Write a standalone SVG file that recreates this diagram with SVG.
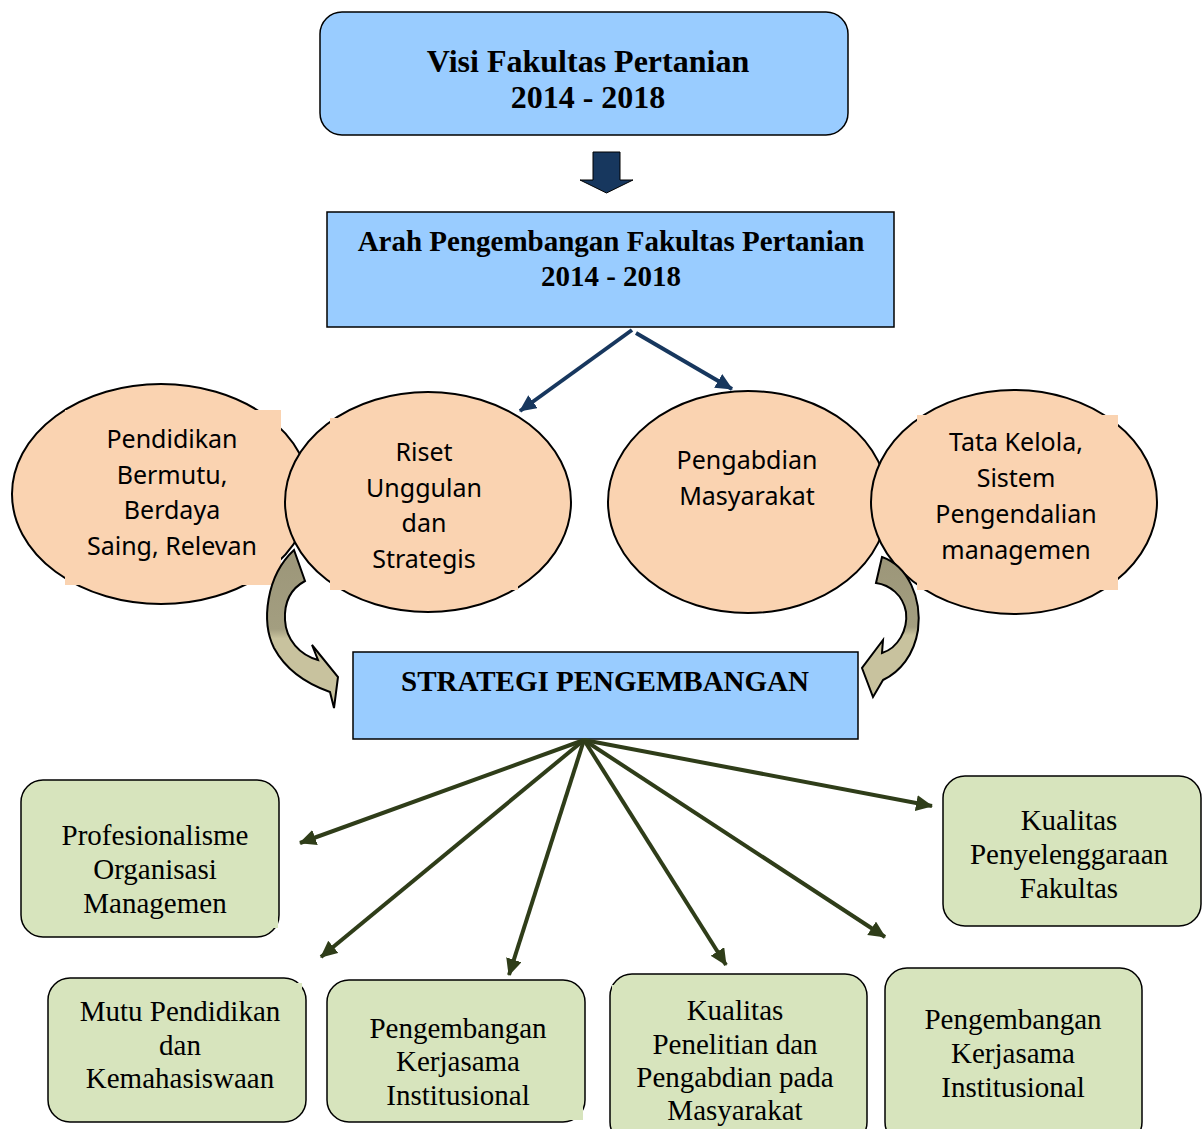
<svg xmlns="http://www.w3.org/2000/svg" width="1203" height="1129" viewBox="0 0 1203 1129">
<style>
.blue{fill:#99CCFF;stroke:#000;stroke-width:1.5}
.peach{fill:#FAD3B1;stroke:#000;stroke-width:2}
.pfill{fill:#FAD3B1;stroke:none}
.green{fill:#D7E4BD;stroke:#000;stroke-width:1.5}
.gfill{fill:#D7E4BD;stroke:none}
.tb{font-family:"Liberation Serif",serif;font-weight:bold;fill:#000;text-anchor:middle}
.ts{font-family:"Liberation Serif",serif;font-size:29px;fill:#000;text-anchor:middle}
.tc{font-family:"Noto Sans","Open Sans",sans-serif;font-size:25px;fill:#000;text-anchor:middle}
.navy{stroke:#17375E;stroke-width:4;fill:none}
.olive{stroke:#2F3D19;stroke-width:4;fill:none}
.curve{stroke:#000;stroke-width:2;fill:url(#cg)}
</style>
<defs>
<marker id="mn" markerUnits="userSpaceOnUse" markerWidth="20" markerHeight="18" refX="16" refY="8" orient="auto"><path d="M0,0 L17,8 L0,16 Z" fill="#17375E"/></marker>
<marker id="mo" markerUnits="userSpaceOnUse" markerWidth="20" markerHeight="18" refX="16" refY="8" orient="auto"><path d="M0,0 L17,8 L0,16 Z" fill="#2F3D19"/></marker>
<linearGradient id="cg" x1="0" y1="0" x2="0" y2="1"><stop offset="0" stop-color="#9C9679"/><stop offset="0.5" stop-color="#A39E80"/><stop offset="0.56" stop-color="#C8C29E"/><stop offset="1" stop-color="#C8C29E"/></linearGradient>
</defs>

<g id="visi">
<rect class="blue" x="320" y="12" width="528" height="123" rx="22"/>
<text class="tb" font-size="32" x="588" y="72">Visi Fakultas Pertanian</text>
<text class="tb" font-size="32" x="588" y="108">2014 - 2018</text>
</g>

<g id="down-arrow">
<path d="M593,152 L620,152 L620,180 L633,180 L606.5,193 L580,180 L593,180 Z" fill="#17375E" stroke="#000" stroke-width="1"/>
</g>

<g id="arah">
<rect class="blue" x="327" y="212" width="567" height="115"/>
<text class="tb" font-size="29" x="611" y="251">Arah Pengembangan Fakultas Pertanian</text>
<text class="tb" font-size="29" x="611" y="286">2014 - 2018</text>
</g>

<g id="pendidikan">
<ellipse class="peach" cx="161" cy="494" rx="149" ry="110"/>
<rect class="pfill" x="65" y="410" width="216" height="175"/>
<text class="tc" x="172" y="448">Pendidikan</text>
<text class="tc" x="172" y="484">Bermutu,</text>
<text class="tc" x="172" y="519">Berdaya</text>
<text class="tc" x="172" y="555">Saing, Relevan</text>
</g>

<g id="riset">
<ellipse class="peach" cx="428" cy="502" rx="143" ry="110"/>
<rect class="pfill" x="330" y="418" width="188" height="172"/>
<text class="tc" x="424" y="461">Riset</text>
<text class="tc" x="424" y="497">Unggulan</text>
<text class="tc" x="424" y="532">dan</text>
<text class="tc" x="424" y="568">Strategis</text>
</g>

<g id="pengabdian">
<ellipse class="peach" cx="748" cy="502" rx="140" ry="111"/>
<text class="tc" x="747" y="469">Pengabdian</text>
<text class="tc" x="747" y="505">Masyarakat</text>
</g>

<g id="tatakelola">
<ellipse class="peach" cx="1014" cy="502" rx="143" ry="112"/>
<rect class="pfill" x="917" y="415" width="201" height="175"/>
<text class="tc" x="1016" y="451">Tata Kelola,</text>
<text class="tc" x="1016" y="487">Sistem</text>
<text class="tc" x="1016" y="523">Pengendalian</text>
<text class="tc" x="1016" y="559">managemen</text>
</g>

<g id="curved-arrows">
<path class="curve" d="M294,550 C266,576 261,622 274,648 C287,672 310,685 330,692 L334,708 L338,677 L312,645 L318,660 C300,655 286,640 285,620 C284,600 292,588 305,581 Z"/>
<path class="curve" d="M882,557 C908,566 922,598 918,630 C914,655 900,672 883,680 L873,697 L862,668 L883,640 L882,653 C898,648 908,630 906,612 C903,595 890,585 876,583 Z"/>
</g>

<g id="strategi">
<rect class="blue" x="353" y="652" width="505" height="87"/>
<text class="tb" font-size="29" x="605" y="691">STRATEGI PENGEMBANGAN</text>
</g>

<g id="profesionalisme">
<rect class="green" x="21" y="780" width="258" height="157" rx="22"/>
<rect class="gfill" x="262" y="917" width="16" height="11"/>
<text class="ts" x="155" y="845">Profesionalisme</text>
<text class="ts" x="155" y="879">Organisasi</text>
<text class="ts" x="155" y="913">Managemen</text>
</g>

<g id="mutu">
<rect class="green" x="48" y="978" width="258" height="144" rx="22"/>
<rect class="gfill" x="288" y="983" width="14" height="12"/>
<text class="ts" x="180" y="1021">Mutu Pendidikan</text>
<text class="ts" x="180" y="1055">dan</text>
<text class="ts" x="180" y="1088">Kemahasiswaan</text>
</g>

<g id="kerjasama1">
<rect class="green" x="327" y="980" width="258" height="142" rx="22"/>
<rect class="gfill" x="568" y="1106" width="15" height="14"/>
<text class="ts" x="458" y="1038">Pengembangan</text>
<text class="ts" x="458" y="1071">Kerjasama</text>
<text class="ts" x="458" y="1105">Institusional</text>
</g>

<g id="penelitian">
<rect class="green" x="610" y="974" width="257" height="170" rx="22"/>
<rect class="gfill" x="612" y="985" width="14" height="12"/>
<text class="ts" x="735" y="1020">Kualitas</text>
<text class="ts" x="735" y="1054">Penelitian dan</text>
<text class="ts" x="735" y="1087">Pengabdian pada</text>
<text class="ts" x="735" y="1120">Masyarakat</text>
</g>

<g id="kerjasama2">
<rect class="green" x="885" y="968" width="257" height="176" rx="22"/>
<text class="ts" x="1013" y="1029">Pengembangan</text>
<text class="ts" x="1013" y="1063">Kerjasama</text>
<text class="ts" x="1013" y="1097">Institusional</text>
</g>

<g id="penyelenggaraan">
<rect class="green" x="943" y="776" width="258" height="150" rx="22"/>
<text class="ts" x="1069" y="830">Kualitas</text>
<text class="ts" x="1069" y="864">Penyelenggaraan</text>
<text class="ts" x="1069" y="898">Fakultas</text>
</g>

<g id="connectors">
<line class="navy" x1="632" y1="330" x2="520" y2="411" marker-end="url(#mn)"/>
<line class="navy" x1="636" y1="333" x2="732" y2="389" marker-end="url(#mn)"/>
<line class="olive" x1="584" y1="740" x2="300" y2="843" marker-end="url(#mo)"/>
<line class="olive" x1="584" y1="740" x2="321" y2="957" marker-end="url(#mo)"/>
<line class="olive" x1="584" y1="740" x2="509" y2="975" marker-end="url(#mo)"/>
<line class="olive" x1="584" y1="740" x2="726" y2="965" marker-end="url(#mo)"/>
<line class="olive" x1="584" y1="740" x2="885" y2="937" marker-end="url(#mo)"/>
<line class="olive" x1="584" y1="740" x2="932" y2="806" marker-end="url(#mo)"/>
</g>
</svg>
